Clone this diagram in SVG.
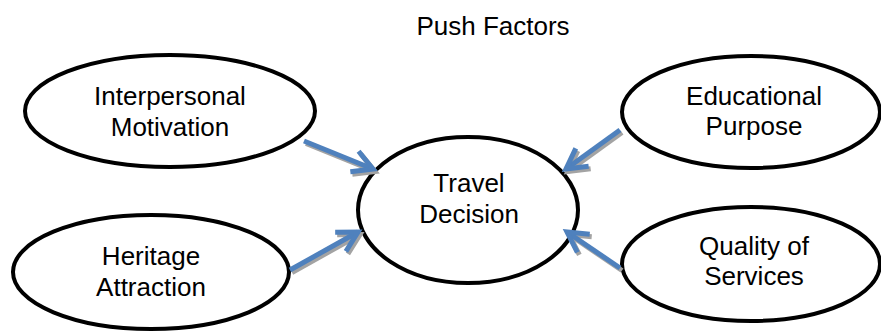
<svg xmlns="http://www.w3.org/2000/svg" width="881" height="333" viewBox="0 0 881 333">
  <style>
    .node { fill: #ffffff; stroke: #000000; stroke-width: 4; }
    .label { font-family: "Liberation Sans", Arial, sans-serif; font-size: 26px; fill: #000000; text-anchor: middle; }
    .shaft { fill: none; stroke-width: 5; stroke-linecap: butt; }
    .blue { stroke: #4f81bd; }
    .shade { stroke: #a3a3a3; }
  </style>
  <defs>
    <marker id="head-blue" markerUnits="userSpaceOnUse" viewBox="-30 -20 40 40" refX="0" refY="0" markerWidth="40" markerHeight="40" orient="auto" overflow="visible">
      <path d="M -20 -11 L 0 0 L -20 11" fill="none" stroke="#4f81bd" stroke-width="5" stroke-linejoin="miter"/>
    </marker>
    <marker id="head-shade" markerUnits="userSpaceOnUse" viewBox="-30 -20 40 40" refX="0" refY="0" markerWidth="40" markerHeight="40" orient="auto" overflow="visible">
      <path d="M -20 -11 L 0 0 L -20 11" fill="none" stroke="#a3a3a3" stroke-width="5" stroke-linejoin="miter"/>
    </marker>
  </defs>

  <rect width="881" height="333" fill="#ffffff"/>

  <text class="label" x="493" y="35">Push Factors</text>

  <!-- factor ellipses -->
  <g id="interpersonal">
    <ellipse class="node" cx="170" cy="111" rx="145" ry="56"/>
    <text class="label" x="170" y="105">Interpersonal</text>
    <text class="label" x="170" y="136">Motivation</text>
  </g>
  <g id="heritage">
    <ellipse class="node" cx="151" cy="272" rx="138" ry="57"/>
    <text class="label" x="151" y="265">Heritage</text>
    <text class="label" x="151" y="296">Attraction</text>
  </g>
  <g id="educational">
    <ellipse class="node" cx="751" cy="112" rx="129" ry="56"/>
    <text class="label" x="754" y="105">Educational</text>
    <text class="label" x="754" y="135">Purpose</text>
  </g>
  <g id="quality">
    <ellipse class="node" cx="751" cy="264" rx="129" ry="57"/>
    <text class="label" x="754" y="255">Quality of</text>
    <text class="label" x="754" y="285">Services</text>
  </g>

  <!-- central decision -->
  <g id="travel-decision">
    <ellipse class="node" cx="468" cy="210" rx="110" ry="73"/>
    <text class="label" x="469" y="192">Travel</text>
    <text class="label" x="469" y="223">Decision</text>
  </g>

  <!-- arrows with drop shadow -->
  <g id="connectors">
    <g transform="translate(2,2.5)">
      <line class="shaft shade" x1="304" y1="141" x2="373" y2="169" marker-end="url(#head-shade)"/>
      <line class="shaft shade" x1="290" y1="270" x2="358" y2="232" marker-end="url(#head-shade)"/>
      <line class="shaft shade" x1="620" y1="130" x2="566" y2="169" marker-end="url(#head-shade)"/>
      <line class="shaft shade" x1="620" y1="268" x2="567" y2="232" marker-end="url(#head-shade)"/>
    </g>
    <line class="shaft blue" x1="304" y1="141" x2="373" y2="169" marker-end="url(#head-blue)"/>
    <line class="shaft blue" x1="290" y1="270" x2="358" y2="232" marker-end="url(#head-blue)"/>
    <line class="shaft blue" x1="620" y1="130" x2="566" y2="169" marker-end="url(#head-blue)"/>
    <line class="shaft blue" x1="620" y1="268" x2="567" y2="232" marker-end="url(#head-blue)"/>
  </g>
</svg>
